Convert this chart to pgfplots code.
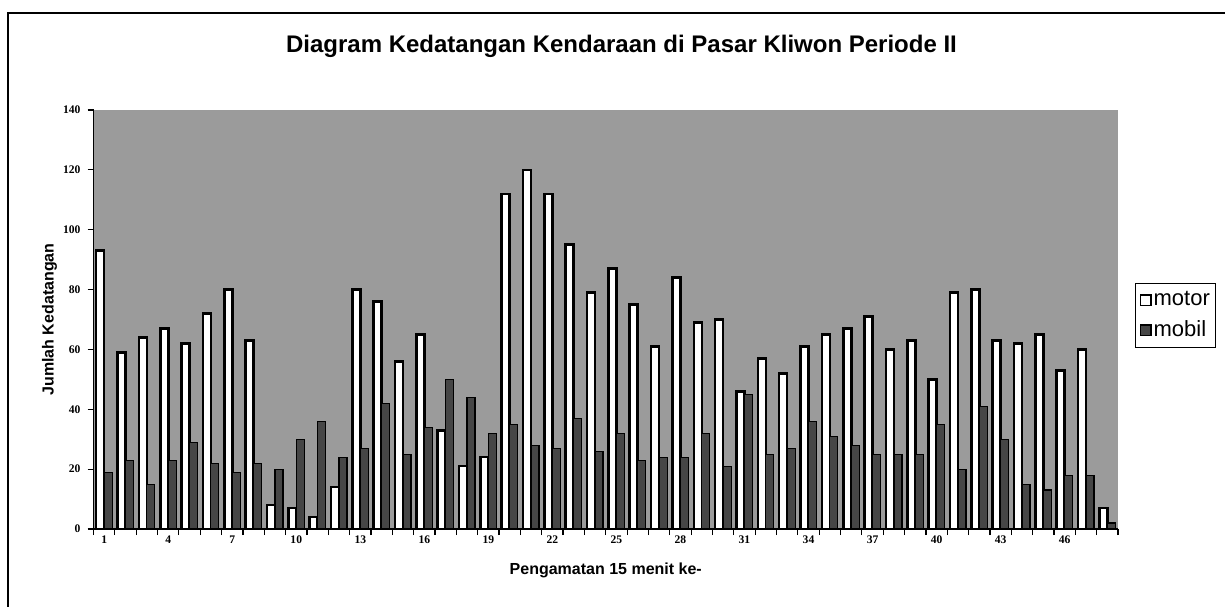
\documentclass[border=0pt]{standalone}
\usepackage{fontspec}
\setmainfont{Liberation Sans}
\newfontfamily\tickfont{Liberation Serif}
\usepackage{pgfplots}
\usepackage{pgfplotstable}
\pgfplotsset{compat=1.18}
\definecolor{bgc}{RGB}{155,155,155}
\definecolor{mobc}{RGB}{70,70,70}

\pgfplotstableread{
x motor mobil
1 93 19
2 59 23
3 64 15
4 67 23
5 62 29
6 72 22
7 80 19
8 63 22
9 8 20
10 7 30
11 4 36
12 14 24
13 80 27
14 76 42
15 56 25
16 65 34
17 33 50
18 21 44
19 24 32
20 112 35
21 120 28
22 112 27
23 95 37
24 79 26
25 87 32
26 75 23
27 61 24
28 84 24
29 69 32
30 70 21
31 46 45
32 57 25
33 52 27
34 61 36
35 65 31
36 67 28
37 71 25
38 60 25
39 63 25
40 50 35
41 79 20
42 80 41
43 63 30
44 62 15
45 65 13
46 53 18
47 60 18
48 7 2
}\datatable

\begin{document}
\begin{tikzpicture}
\useasboundingbox (0,0) rectangle (612.5pt,303pt);
\draw[line width=0.8pt] (4pt,-5pt) -- (4pt,296.5pt) -- (620pt,296.5pt);
\node[anchor=base, font=\bfseries\fontsize{12}{14}\selectfont] at (310.75pt,276.5pt) {Diagram Kedatangan Kendaraan di Pasar Kliwon Periode II};
\begin{axis}[
  at={(46.75pt,38.5pt)}, anchor=south west,
  scale only axis, width=512.25pt, height=209.5pt,
  xmin=0.5, xmax=48.5, ymin=0, ymax=140,
  ybar=0pt, bar width=4pt,
  axis x line*=bottom, axis y line*=left,
  axis line style={black, line width=0.6pt},
  axis background/.style={fill=bgc},
  xtick={0.5,1.5,...,48.5}, xticklabels={},
  extra x ticks={1,4,...,46},
  extra x tick style={major tick length=0pt},
  ytick={0,20,...,140},
  tick align=outside, major tick length=3pt,
  tick style={black, line width=0.6pt},
  /pgf/number format/assume math mode=true,
  ticklabel style={font=\tickfont\bfseries\fontsize{5.8}{6}\selectfont},
  every axis y label/.style={at={(axis description cs:-0.043,0.5)}, rotate=90, anchor=center},
  every axis x label/.style={at={(axis description cs:0.5,-0.098)}, anchor=center},
  label style={font=\bfseries\fontsize{8}{9}\selectfont},
  ylabel={Jumlah Kedatangan},
  xlabel={Pengamatan 15 menit ke-},
  legend style={at={(1.0166,0.587)}, anchor=north west, draw=black, line width=0.6pt, fill=white, font=\fontsize{11}{13}\selectfont, inner xsep=2pt, row sep=2pt, nodes={inner xsep=1pt}},
  legend cell align=left,
  legend image code/.code={\draw[#1, line width=0.8pt] (0pt,-2.6pt) rectangle (5.2pt,2.6pt);},
]
\addplot[draw=black, fill=white, line width=1.3pt] table[x=x,y=motor]{\datatable};
\addplot[draw=black, fill=mobc, line width=0.6pt] table[x=x,y=mobil]{\datatable};
\legend{motor, mobil}
\end{axis}
\end{tikzpicture}
\end{document}
